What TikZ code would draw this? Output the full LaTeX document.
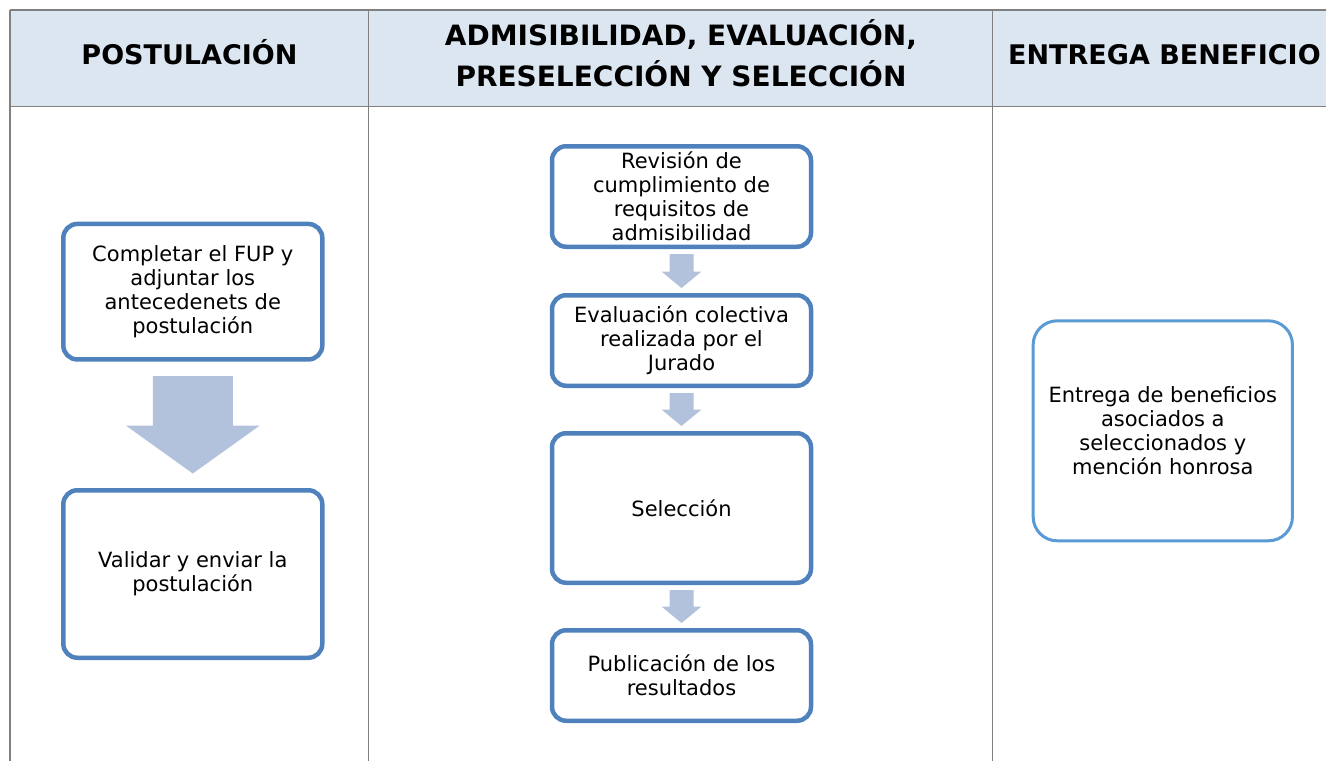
\documentclass[tikz,border=0pt]{standalone}
\usepackage{fontspec}
\setmainfont{DejaVu Sans}
\usetikzlibrary{calc}
\definecolor{hdr}{HTML}{DCE6F1}
\definecolor{gridc}{HTML}{808080}
\definecolor{boxc}{HTML}{4F81BD}
\definecolor{boxl}{HTML}{5B9BD5}
\definecolor{arrc}{HTML}{B3C2DC}
\newcommand\blockarrow[6]{% #1 from, #2 to, #3 shaft half, #4 head half, #5 head length, #6 gap
  \fill[arrc] let \p1=(#1.south), \p2=(#2.north) in
    (\x1-#3pt,\y1-#6pt) -- (\x1+#3pt,\y1-#6pt) -- (\x1+#3pt,\y2+#6pt+#5pt)
    -- (\x1+#4pt,\y2+#6pt+#5pt) -- (\x1,\y2+#6pt) -- (\x1-#4pt,\y2+#6pt+#5pt)
    -- (\x1-#3pt,\y2+#6pt+#5pt) -- cycle;}
\begin{document}
\begin{tikzpicture}[x=1pt,y=-1pt,
  stepbox/.style={draw=boxc, line width=4.5pt, rounded corners=14pt, fill=white,
    align=center, font=\fontsize{21}{24}\selectfont, inner sep=0pt, minimum width=259pt},
  endbox/.style={draw=boxl, line width=3pt, rounded corners=24pt, fill=white,
    align=center, font=\fontsize{21}{24}\selectfont, inner sep=0pt},
  hdrtext/.style={font=\fontsize{27}{42}\selectfont\bfseries, align=center, inner sep=0pt},
  hdrwide/.style={hdrtext, font=\fontsize{28}{42}\selectfont\bfseries},
  gridline/.style={draw=gridc, line width=1.5pt}]
\useasboundingbox (0,0) rectangle (1326,761);
% header band and grid
\fill[hdr] (10,10) rectangle (1326,106.7);
\draw[gridline] (10,10) -- (1326,10);
\draw[gridline] (10,106.7) -- (1326,106.7);
\draw[gridline] (10,10) -- (10,761);
\draw[gridline] (368.3,10) -- (368.3,761);
\draw[gridline] (992.3,10) -- (992.3,761);
% headers
\node[hdrtext, anchor=base] (h1) at (189.5,64) {POSTULACIÓN};
\node[hdrwide, anchor=base] (h2a) at (681,45) {ADMISIBILIDAD, EVALUACIÓN,};
\node[hdrwide, anchor=base] (h2b) at (681,86) {PRESELECCIÓN Y SELECCIÓN};
\node[hdrtext, anchor=base west] (h3) at (1008,64) {ENTREGA BENEFICIO};
% left column
\node[stepbox, minimum height=135.5pt] (p1) at (192.8,291.7)
  {Completar el FUP y\\adjuntar los\\antecedenets de\\postulación};
\node[stepbox, minimum height=167.5pt] (p2) at (192.8,574)
  {Validar y enviar la\\postulación};
\blockarrow{p1}{p2}{40}{67}{48}{14.5}
% middle column
\node[stepbox, minimum height=100.5pt] (a1) at (681.5,196.5)
  {Revisión de\\cumplimiento de\\requisitos de\\admisibilidad};
\node[stepbox, minimum height=90.5pt] (a2) at (681.5,340.5)
  {Evaluación colectiva\\realizada por el\\Jurado};
\node[stepbox, minimum height=149.5pt] (a3) at (681.5,508)
  {Selección};
\node[stepbox, minimum height=90.5pt] (a4) at (681.5,675.5)
  {Publicación de los\\resultados};
\blockarrow{a1}{a2}{12}{20}{16.5}{5}
\blockarrow{a2}{a3}{12}{20}{16.5}{5}
\blockarrow{a3}{a4}{12}{20}{16.5}{5}
% right column
\node[endbox, minimum width=259.3pt, minimum height=220pt] (e1) at (1162.8,430.8)
  {Entrega de beneficios\\asociados a\\seleccionados y\\mención honrosa};
\end{tikzpicture}
\end{document}
